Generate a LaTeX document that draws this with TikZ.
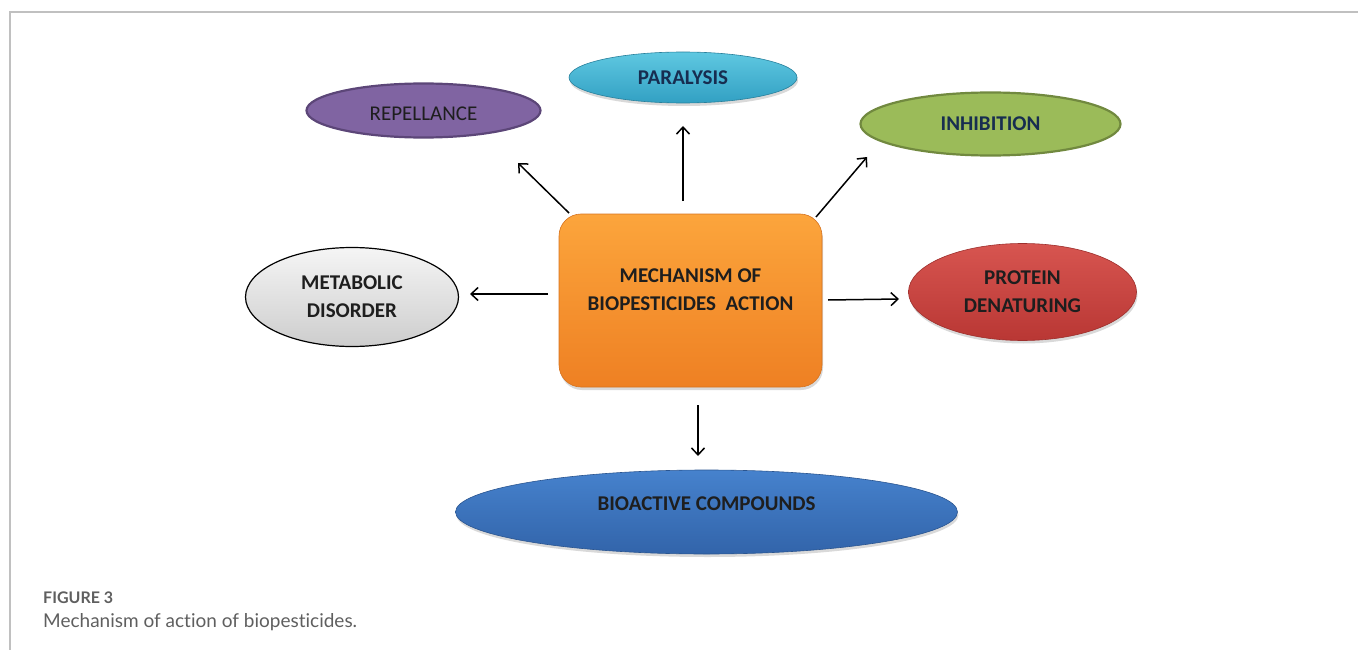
\documentclass[tikz,border=0pt]{standalone}
\usepackage{fontspec}
\setmainfont{Carlito}
\newfontfamily\capfont[Ligatures=NoCommon]{Lato}
\usetikzlibrary{arrows.meta,shapes.geometric,shadows}
\definecolor{framegray}{RGB}{192,192,192}
\definecolor{navytext}{RGB}{23,45,80}
\definecolor{darktext}{RGB}{30,30,30}
\definecolor{purpfill}{RGB}{128,100,162}
\definecolor{purpline}{RGB}{92,70,120}
\definecolor{cyantop}{RGB}{95,200,225}
\definecolor{cyanbot}{RGB}{50,160,195}
\definecolor{greenfill}{RGB}{155,187,89}
\definecolor{greenline}{RGB}{113,137,63}
\definecolor{greytop}{RGB}{245,245,245}
\definecolor{greybot}{RGB}{205,205,205}
\definecolor{orangetop}{RGB}{252,165,60}
\definecolor{orangebot}{RGB}{238,128,35}
\definecolor{redtop}{RGB}{215,85,80}
\definecolor{redbot}{RGB}{185,55,52}
\definecolor{bluetop}{RGB}{70,130,205}
\definecolor{bluebot}{RGB}{50,100,170}
\definecolor{captext}{RGB}{95,95,95}
\tikzset{
  x=1pt, y=-1pt,
  ell/.style={ellipse, inner sep=0pt, align=center, font=\fontsize{21}{28}\selectfont\bfseries, text=darktext},
  arr/.style={line width=1.5pt, -{Straight Barb[length=7pt,width=13pt,line width=1.5pt]}},
  softshadow/.style={drop shadow={shadow xshift=1pt, shadow yshift=-3pt, opacity=0.25, fill=black!60}},
}
\begin{document}
\begin{tikzpicture}
\useasboundingbox (0,0) rectangle (1358,650);
% frame
\draw[framegray, line width=2pt] (10,650) -- (10,12) -- (1358,12);

% center box
\node[rounded corners=22pt, minimum width=263pt, minimum height=173pt, inner sep=0pt,
      top color=orangetop, bottom color=orangebot, draw=orangebot!90!black, line width=0.6pt,
      softshadow] (box) at (690.5,300.5) {};
\node[align=center, inner sep=0pt, font=\fontsize{21}{28}\selectfont\bfseries, text=darktext]
  (boxtext) at (690.5,290) {MECHANISM OF\\BIOPESTICIDES~ ACTION};

% ellipses
\node[ell, minimum width=234pt, minimum height=54pt, fill=purpfill, draw=purpline, line width=2.2pt,
      font=\fontsize{21}{28}\selectfont, text depth=0pt, text height=21pt] (rep) at (423.5,110.5) {REPELLANCE};
\node[ell, minimum width=228pt, minimum height=51pt, top color=cyantop, bottom color=cyanbot,
      draw=cyanbot!80!black, line width=0.6pt, softshadow, text=navytext] (par) at (683,77.5) {PARALYSIS};
\node[ell, minimum width=260pt, minimum height=63pt, fill=greenfill, draw=greenline, line width=2.2pt,
      text=navytext] (inh) at (990.5,124) {INHIBITION};
\node[ell, minimum width=213pt, minimum height=99pt, top color=greytop, bottom color=greybot,
      draw=black, line width=1.2pt] (met) at (352,297) {METABOLIC\\DISORDER};
\node[ell, minimum width=228pt, minimum height=97pt, top color=redtop, bottom color=redbot,
      draw=redbot!85!black, line width=0.6pt, softshadow] (pro) at (1022.5,292) {PROTEIN\\DENATURING};
\node[ell, minimum width=502pt, minimum height=84pt, top color=bluetop, bottom color=bluebot,
      draw=bluebot!85!black, line width=0.6pt, softshadow, text depth=16pt] (bio) at (706.5,512) {BIOACTIVE COMPOUNDS};

% arrow end coordinates (free ends)
\coordinate (aRepS) at (569,213);
\coordinate (aRepE) at (518,163);
\coordinate (aParS) at (683,201);
\coordinate (aParE) at (683,126);
\coordinate (aInhS) at (816,217);
\coordinate (aInhE) at (867,157);
\coordinate (aMetS) at (548,294);
\coordinate (aMetE) at (470,294);
\coordinate (aProS) at (828,300);
\coordinate (aProE) at (899,299);
\coordinate (aBioS) at (698,405);
\coordinate (aBioE) at (698,456);

\draw[arr] (aRepS) -- (aRepE);
\draw[arr] (aParS) -- (aParE);
\draw[arr] (aInhS) -- (aInhE);
\draw[arr] (aMetS) -- (aMetE);
\draw[arr] (aProS) -- (aProE);
\draw[arr] (aBioS) -- (aBioE);

% caption
\node[anchor=base west, inner sep=0pt, text=captext, font=\capfont\fontsize{16}{18}\selectfont\bfseries] (figlab) at (43,603) {FIGURE 3};
\node[anchor=base west, inner sep=0pt, text=captext, font=\capfont\fontsize{19}{22}\selectfont] (cap) at (43,627) {Mechanism of action of biopesticides.};
\end{tikzpicture}
\end{document}
